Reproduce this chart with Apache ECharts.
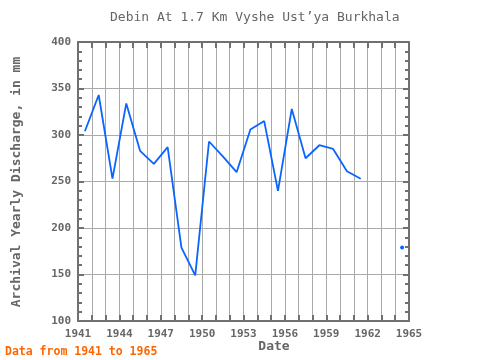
<!DOCTYPE html>
<html>
<head>
<meta charset="utf-8">
<script src="https://cdn.jsdelivr.net/npm/echarts@6/dist/echarts.min.js"></script>
<style>html,body{margin:0;padding:0;background:#fff;}#c{width:480px;height:360px;}</style>
</head>
<body>
<div id="c"></div>
<script>
var years = [1941,1942,1943,1944,1945,1946,1947,1948,1949,1950,1951,1952,1953,1954,1955,1956,1957,1958,1959,1960,1961,1962,1963,1964];
var discharge = [304,343,253,334,283,269,287,179,149,293,277,260,306,315,240,328,275,289,285,261,253,null,null,179];
var xTicks = [1941,1944,1947,1950,1953,1956,1959,1962,1965];
var yTicks = [100,150,200,250,300,350,400];

var seriesData = years.map(function(y,i){ return [y + 0.5, discharge[i]]; });
function isolated(i){
  var prev = i > 0 ? discharge[i-1] : null;
  var next = i < discharge.length-1 ? discharge[i+1] : null;
  return discharge[i] != null && prev == null && next == null;
}
var font = '"DejaVu Sans Mono", monospace';
var axisCol = '#707070';
var chart = echarts.init(document.getElementById('c'), null, {renderer:'canvas'});

function xAx(pos, show){
  return {
    type:'value', position:pos, min:xTicks[0], max:xTicks[xTicks.length-1], interval:3,
    axisLine:{show:true, onZero:false, lineStyle:{color:axisCol, width:2}},
    axisTick:{show:true, inside:true, length:6, lineStyle:{color:axisCol, width:2}},
    minorTick:{show:true, splitNumber:3, length:6, lineStyle:{color:axisCol, width:2}},
    splitLine:{show:show, lineStyle:{color:'#aaaaaa', width:1}},
    minorSplitLine:{show:show, lineStyle:{color:'#aaaaaa', width:1}},
    axisLabel:{show:show, color:'#666', fontFamily:font, fontSize:11, margin:8, fontWeight:'bold',
      formatter:function(v){ return String(v); }}
  };
}
function yAx(pos, show){
  return {
    type:'value', position:pos, min:yTicks[0], max:yTicks[yTicks.length-1], interval:50,
    axisLine:{show:true, onZero:false, lineStyle:{color:axisCol, width:2}},
    axisTick:{show:true, inside:true, length:6, lineStyle:{color:axisCol, width:2}},
    minorTick:{show:true, splitNumber:5, length:4, lineStyle:{color:axisCol, width:2}},
    splitLine:{show:show, lineStyle:{color:'#aaaaaa', width:1}},
    axisLabel:{show:show, color:'#666', fontFamily:font, fontSize:11, margin:7, fontWeight:'bold',
      formatter:function(v){ return String(v); }}
  };
}

chart.setOption({
  animation:false,
  backgroundColor:'#fff',
  grid:{left:78, right:71, top:42, bottom:39},
  xAxis:[xAx('bottom', true), xAx('top', false)],
  yAxis:[yAx('left', true), yAx('right', false)],
  graphic:[
    {type:'text', left:110, top:11, style:{text:"Debin At 1.7 Km Vyshe Ust\u2019ya Burkhala", fill:'#666', font:'13px '+font}},
    {type:'text', x:17, y:182, rotation:Math.PI/2, style:{text:'Archival Yearly Discharge, in mm', fill:'#666', font:'bold 13px '+font, align:'center', verticalAlign:'middle'}},
    {type:'text', x:274, y:347, style:{text:'Date', fill:'#666', font:'bold 13px '+font, align:'center', verticalAlign:'middle'}},
    {type:'text', x:5, y:352, style:{text:'Data from 1941 to 1965', fill:'#ff6600', font:'bold 11.5px '+font, align:'left', verticalAlign:'middle'}}
  ],
  series:[{
    type:'line', xAxisIndex:0, yAxisIndex:0, data:seriesData, connectNulls:false,
    showSymbol:true, symbol:'circle',
    symbolSize:function(val, params){ return isolated(params.dataIndex) ? 4 : 0; },
    itemStyle:{color:'#0a64ff'},
    lineStyle:{color:'#0a64ff', width:1.8}
  }]
});
</script>
</body>
</html>
